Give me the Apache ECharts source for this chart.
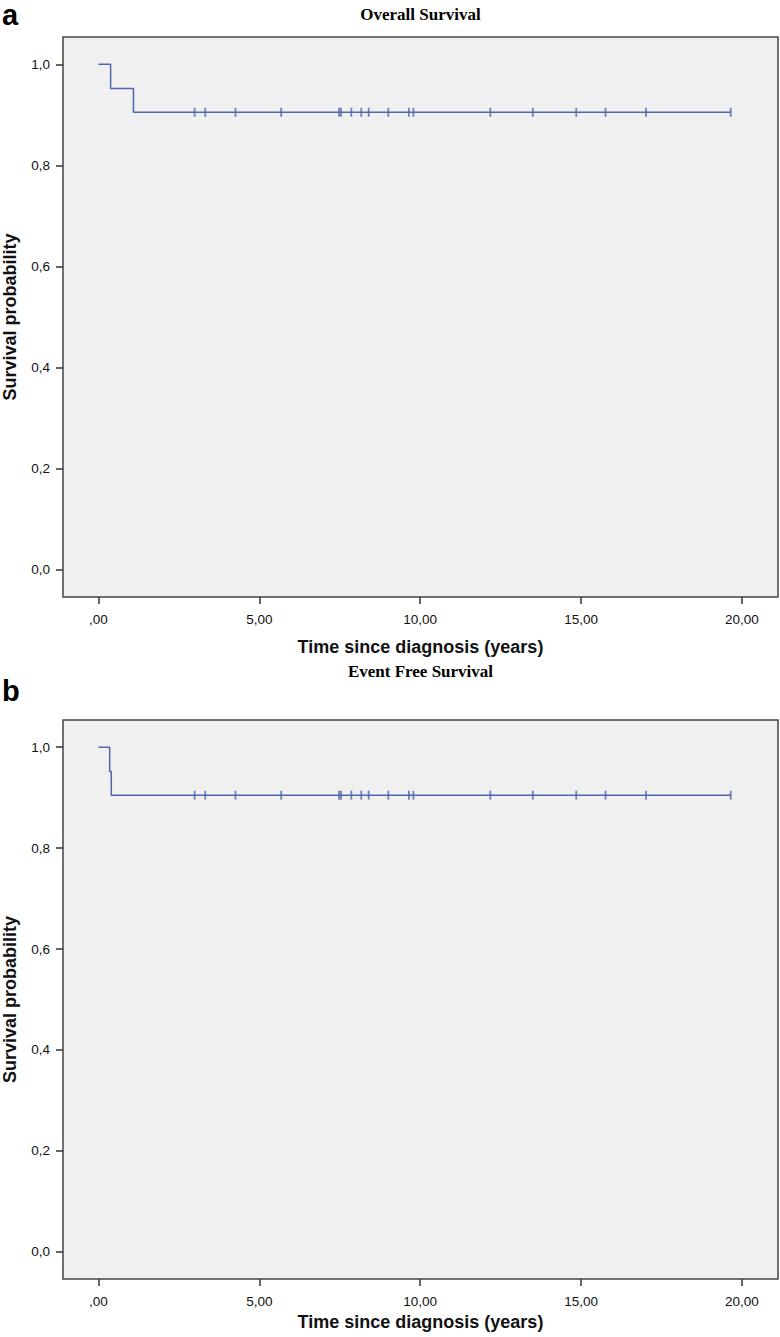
<!DOCTYPE html>
<html>
<head>
<meta charset="utf-8">
<script src="https://cdn.jsdelivr.net/npm/echarts@6/dist/echarts.min.js"></script>
<style>
html,body{margin:0;padding:0;background:#fff;}
#chart{width:780px;height:1337px;}
</style>
</head>
<body>
<div id="chart"></div>
<script>
// ---- data ----
const panelTitles = ['Overall Survival', 'Event Free Survival'];
const panelLetters = ['a', 'b'];
const xTicks = [0, 5, 10, 15, 20];
const yTicks = [0, 0.2, 0.4, 0.6, 0.8, 1.0];
const xTitle = 'Time since diagnosis (years)';
const yTitle = 'Survival probability';

// Overall survival: event times and survival after each step
const osTimes = [0, 0.38, 1.09, 19.65];
const osSurv = [1.0, 0.952, 0.905, 0.905];
// Event free survival
const efsTimes = [0, 0.35, 0.40, 19.65];
const efsSurv = [1.0, 0.952, 0.905, 0.905];
// censored observations (same patients in both panels)
const censorTimes = [2.99, 3.32, 4.26, 5.68, 7.48, 7.54, 7.86, 8.17, 8.40, 9.01, 9.65, 9.79, 12.18, 13.50, 14.85, 15.76, 17.02, 19.65];
const osCensorSurv = censorTimes.map(() => 0.905);
const efsCensorSurv = censorTimes.map(() => 0.905);

// ---- chart ----
const LINE = '#5166ad';
const fmtX = v => v === 0 ? ',00' : v.toFixed(2).replace('.', ',');
const fmtY = v => v.toFixed(1).replace('.', ',');

const grids = [
  {left: 63, top: 37, width: 715, height: 560},
  {left: 63, top: 720, width: 715, height: 559}
];
const xNameGaps = [41, 34];

function xAxis(i) {
  return {
    type: 'value', gridIndex: i, min: -1.1, max: 21.12,
    axisLine: {show: false, onZero: false},
    axisTick: {show: true, inside: false, length: 7, customValues: xTicks, lineStyle: {color: '#333', width: 1.5}},
    axisLabel: {customValues: xTicks, formatter: fmtX, margin: 15, color: '#111', fontFamily: 'Liberation Sans', fontSize: 13.5},
    splitLine: {show: false},
    name: xTitle, nameLocation: 'middle', nameGap: xNameGaps[i],
    nameTextStyle: {fontFamily: 'Liberation Sans', fontWeight: 'bold', fontSize: 18, color: '#111'}
  };
}
function yAxis(i) {
  return {
    type: 'value', gridIndex: i, min: -0.054, max: 1.054,
    axisLine: {show: false, onZero: false},
    axisTick: {show: true, inside: false, length: 7, customValues: yTicks, lineStyle: {color: '#333', width: 1.5}},
    axisLabel: {customValues: yTicks, formatter: fmtY, margin: 13, color: '#111', fontFamily: 'Liberation Sans', fontSize: 13.5},
    splitLine: {show: false},
    name: yTitle, nameLocation: 'middle', nameGap: 44, nameRotate: 90,
    nameTextStyle: {fontFamily: 'Liberation Sans', fontWeight: 'bold', fontSize: 18, color: '#111'}
  };
}

function zip(a, b) { return a.map((v, k) => [v, b[k]]); }

const option = {
  animation: false,
  backgroundColor: '#ffffff',
  grid: grids.map(g => Object.assign({show: true, containLabel: false, outerBoundsMode: 'none', backgroundColor: '#f0f0f0', borderColor: '#444', borderWidth: 1.5}, g)),
  xAxis: [xAxis(0), xAxis(1)],
  yAxis: [yAxis(0), yAxis(1)],
  graphic: [
    {type: 'text', left: 2, top: 0, style: {text: panelLetters[0], font: 'bold 29px "Liberation Sans"', fill: '#000'}},
    {type: 'text', left: 2, top: 676, style: {text: panelLetters[1], font: 'bold 29px "Liberation Sans"', fill: '#000'}},
    {type: 'text', x: 420.5, y: 14, style: {text: panelTitles[0], textAlign: 'center', textVerticalAlign: 'middle', font: 'bold 17px "Liberation Serif"', fill: '#000'}},
    {type: 'text', x: 420.5, y: 671, style: {text: panelTitles[1], textAlign: 'center', textVerticalAlign: 'middle', font: 'bold 17px "Liberation Serif"', fill: '#000'}}
  ],
  series: [
    {type: 'line', xAxisIndex: 0, yAxisIndex: 0, step: 'end', data: zip(osTimes, osSurv), showSymbol: false, lineStyle: {color: LINE, width: 1.5}, z: 2},
    {type: 'scatter', xAxisIndex: 0, yAxisIndex: 0, data: zip(censorTimes, osCensorSurv), symbol: 'rect', symbolSize: [1.8, 9], itemStyle: {color: LINE}, z: 3},
    {type: 'line', xAxisIndex: 1, yAxisIndex: 1, step: 'end', data: zip(efsTimes, efsSurv), showSymbol: false, lineStyle: {color: LINE, width: 1.5}, z: 2},
    {type: 'scatter', xAxisIndex: 1, yAxisIndex: 1, data: zip(censorTimes, efsCensorSurv), symbol: 'rect', symbolSize: [1.8, 9], itemStyle: {color: LINE}, z: 3}
  ]
};

const chart = echarts.init(document.getElementById('chart'), null, {renderer: 'svg'});
chart.setOption(option);
</script>
</body>
</html>
